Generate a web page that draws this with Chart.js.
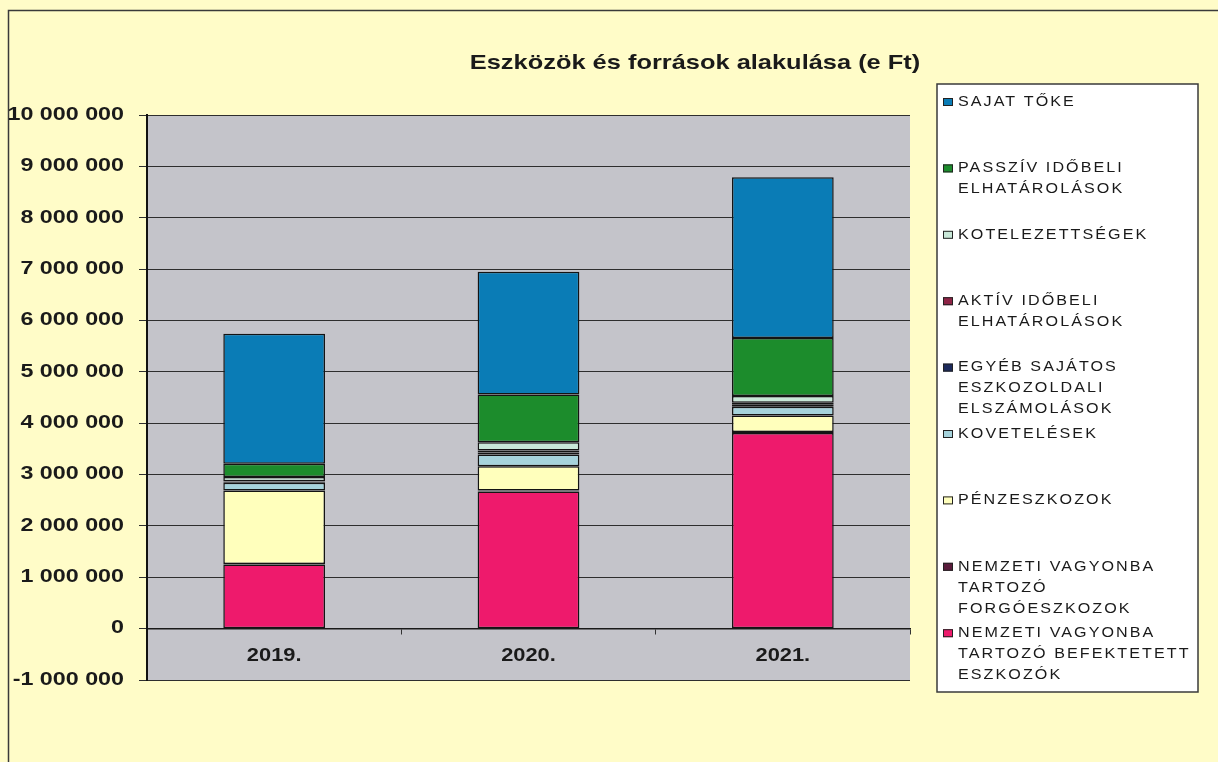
<!DOCTYPE html>
<html lang="hu">
<head>
<meta charset="utf-8">
<title>Eszközök és források alakulása</title>
<script src="https://cdn.jsdelivr.net/npm/chart.js@4.4.1/dist/chart.umd.min.js"></script>
<style>
  html, body { margin: 0; padding: 0; background: #FFFCC8; }
  #wrap { width: 1218px; height: 762px; position: relative; }
</style>
</head>
<body>
<div id="wrap"><canvas id="grafikon" width="1218" height="762"></canvas></div>
<script>
  'use strict';

  // Évek
  const evek = ['2019.', '2020.', '2021.'];

  // Sorozatok alulról felfelé (e Ft)
  const befektetettEszkozok = [1250000, 2670000, 3810000];
  const forgoeszkozok = [10000, 20000, 20000];
  const penzeszkozok = [1430000, 470000, 320000];
  const kovetelesek = [150000, 230000, 170000];
  const egyebElszamolasok = [20000, 40000, 40000];
  const aktivElhatarolasok = [10000, 40000, 40000];
  const kotelezettsegek = [80000, 160000, 130000];
  const passzivElhatarolasok = [260000, 930000, 1130000];
  const sajatToke = [2530000, 2390000, 3130000];

  // Tengely
  const Y_MIN = -1000000;
  const Y_MAX = 10000000;
  const Y_LEPES = 1000000;

  const CIM = 'Eszközök és források alakulása (e Ft)';
  const BETU = "'Liberation Sans', Arial, sans-serif";
  const HATTER = '#FFFCC8';
  const RAJZTER = '#C4C4CA';

  function ezres(v) {
    return String(v).replace(/\B(?=(\d{3})+(?!\d))/g, ' ');
  }

  function sorozat(cimke, adatok, szin) {
    return {
      label: cimke, data: adatok, backgroundColor: szin,
      borderColor: '#141414', borderWidth: 1.5, borderSkipped: false,
      categoryPercentage: 0.8, barPercentage: 0.5
    };
  }

  const sorozatok = [
    sorozat(['NEMZETI VAGYONBA', 'TARTOZÓ BEFEKTETETT', 'ESZKOZÓK'], befektetettEszkozok, '#EE1A6C'),
    sorozat(['NEMZETI VAGYONBA', 'TARTOZÓ', 'FORGÓESZKOZOK'], forgoeszkozok, '#5A1C3C'),
    sorozat(['PÉNZESZKOZOK'], penzeszkozok, '#FFFFBC'),
    sorozat(['KOVETELÉSEK'], kovetelesek, '#A6D3DC'),
    sorozat(['EGYÉB SAJÁTOS', 'ESZKOZOLDALI', 'ELSZÁMOLÁSOK'], egyebElszamolasok, '#1C2A5C'),
    sorozat(['AKTÍV IDŐBELI', 'ELHATÁROLÁSOK'], aktivElhatarolasok, '#8E2446'),
    sorozat(['KOTELEZETTSÉGEK'], kotelezettsegek, '#C8E8D8'),
    sorozat(['PASSZÍV IDŐBELI', 'ELHATÁROLÁSOK'], passzivElhatarolasok, '#1C8C2C'),
    sorozat(['SAJAT TŐKE'], sajatToke, '#0A7CB6')
  ];

  // Vízszintesen nyújtott szöveg
  function nyujtott(ctx, szoveg, x, y, nyujtas, igazitas, font, koz) {
    ctx.save();
    ctx.translate(x, y);
    ctx.scale(nyujtas, 1);
    ctx.font = font;
    ctx.letterSpacing = (koz || 0) + 'px';
    ctx.textAlign = igazitas;
    ctx.textBaseline = 'middle';
    ctx.fillStyle = '#1A1A1A';
    ctx.fillText(szoveg, 0, 0);
    ctx.restore();
  }

  const hatterPlugin = {
    id: 'hatter',
    beforeDraw: function (chart) {
      const ctx = chart.ctx;
      const a = chart.chartArea;
      ctx.save();
      ctx.fillStyle = HATTER;
      ctx.fillRect(0, 0, chart.width, chart.height);
      ctx.strokeStyle = '#3A3A3A';
      ctx.lineWidth = 1.5;
      ctx.beginPath();
      ctx.moveTo(8.5, chart.height);
      ctx.lineTo(8.5, 10.5);
      ctx.lineTo(chart.width, 10.5);
      ctx.stroke();
      ctx.fillStyle = RAJZTER;
      ctx.fillRect(a.left, a.top, a.right - a.left, a.bottom - a.top);
      ctx.restore();
    }
  };

  const szovegPlugin = {
    id: 'szovegek',
    afterDraw: function (chart) {
      const ctx = chart.ctx;
      const y = chart.scales.y;
      const x = chart.scales.x;

      // cím
      nyujtott(ctx, CIM, 695, 63, 1.21, 'center', 'bold 21px ' + BETU);

      // függőleges tengely feliratai
      y.ticks.forEach(function (t) {
        nyujtott(ctx, ezres(t.value), 124, y.getPixelForValue(t.value), 1.33, 'right', 'bold 17.5px ' + BETU);
      });

      // évek a nulla vonal alatt
      evek.forEach(function (ev, i) {
        nyujtott(ctx, ev, x.getPixelForValue(i), y.getPixelForValue(0) + 27, 1.15, 'center', 'bold 19px ' + BETU);
      });

      // jelmagyarázat, fordított sorrendben
      const bal = 937, fent = 84, jobb = 1198, lent = 692;
      ctx.save();
      ctx.fillStyle = '#FFFFFF';
      ctx.fillRect(bal, fent, jobb - bal, lent - fent);
      ctx.strokeStyle = '#3A3A3A';
      ctx.lineWidth = 1.5;
      ctx.strokeRect(bal, fent, jobb - bal, lent - fent);
      ctx.restore();

      const elemek = chart.data.datasets.slice().reverse();
      elemek.forEach(function (ds, i) {
        const y0 = 102 + i * 66.4;
        ctx.save();
        ctx.fillStyle = ds.backgroundColor;
        ctx.strokeStyle = '#222222';
        ctx.lineWidth = 1;
        ctx.fillRect(943, y0 - 4, 10, 8);
        ctx.strokeRect(943.5, y0 - 3.5, 9, 7);
        ctx.restore();
        ds.label.forEach(function (sor, j) {
          nyujtott(ctx, sor, 958, y0 + j * 21, 1.15, 'left', '14px ' + BETU, 1.8);
        });
      });
    }
  };

  new Chart(document.getElementById('grafikon'), {
    type: 'bar',
    data: { labels: evek, datasets: sorozatok },
    options: {
      responsive: false,
      animation: false,
      layout: { padding: { left: 0, top: 115, right: 308, bottom: 82 } },
      plugins: { legend: { display: false }, tooltip: { enabled: false }, title: { display: false } },
      scales: {
        x: {
          stacked: true,
          position: { y: 0 },
          ticks: { display: false },
          grid: { drawOnChartArea: false, drawTicks: true, tickLength: 5, offset: true, color: '#333333' },
          border: { display: true, color: '#1A1A1A', width: 1.5 }
        },
        y: {
          stacked: true,
          min: Y_MIN, max: Y_MAX,
          afterFit: function (scale) { scale.width = 147; },
          ticks: { stepSize: Y_LEPES, display: false },
          grid: { color: '#2E2E2E', lineWidth: 1, tickLength: 8, drawTicks: true },
          border: { display: true, color: '#111111', width: 2 }
        }
      }
    },
    plugins: [hatterPlugin, szovegPlugin]
  });
</script>
</body>
</html>
